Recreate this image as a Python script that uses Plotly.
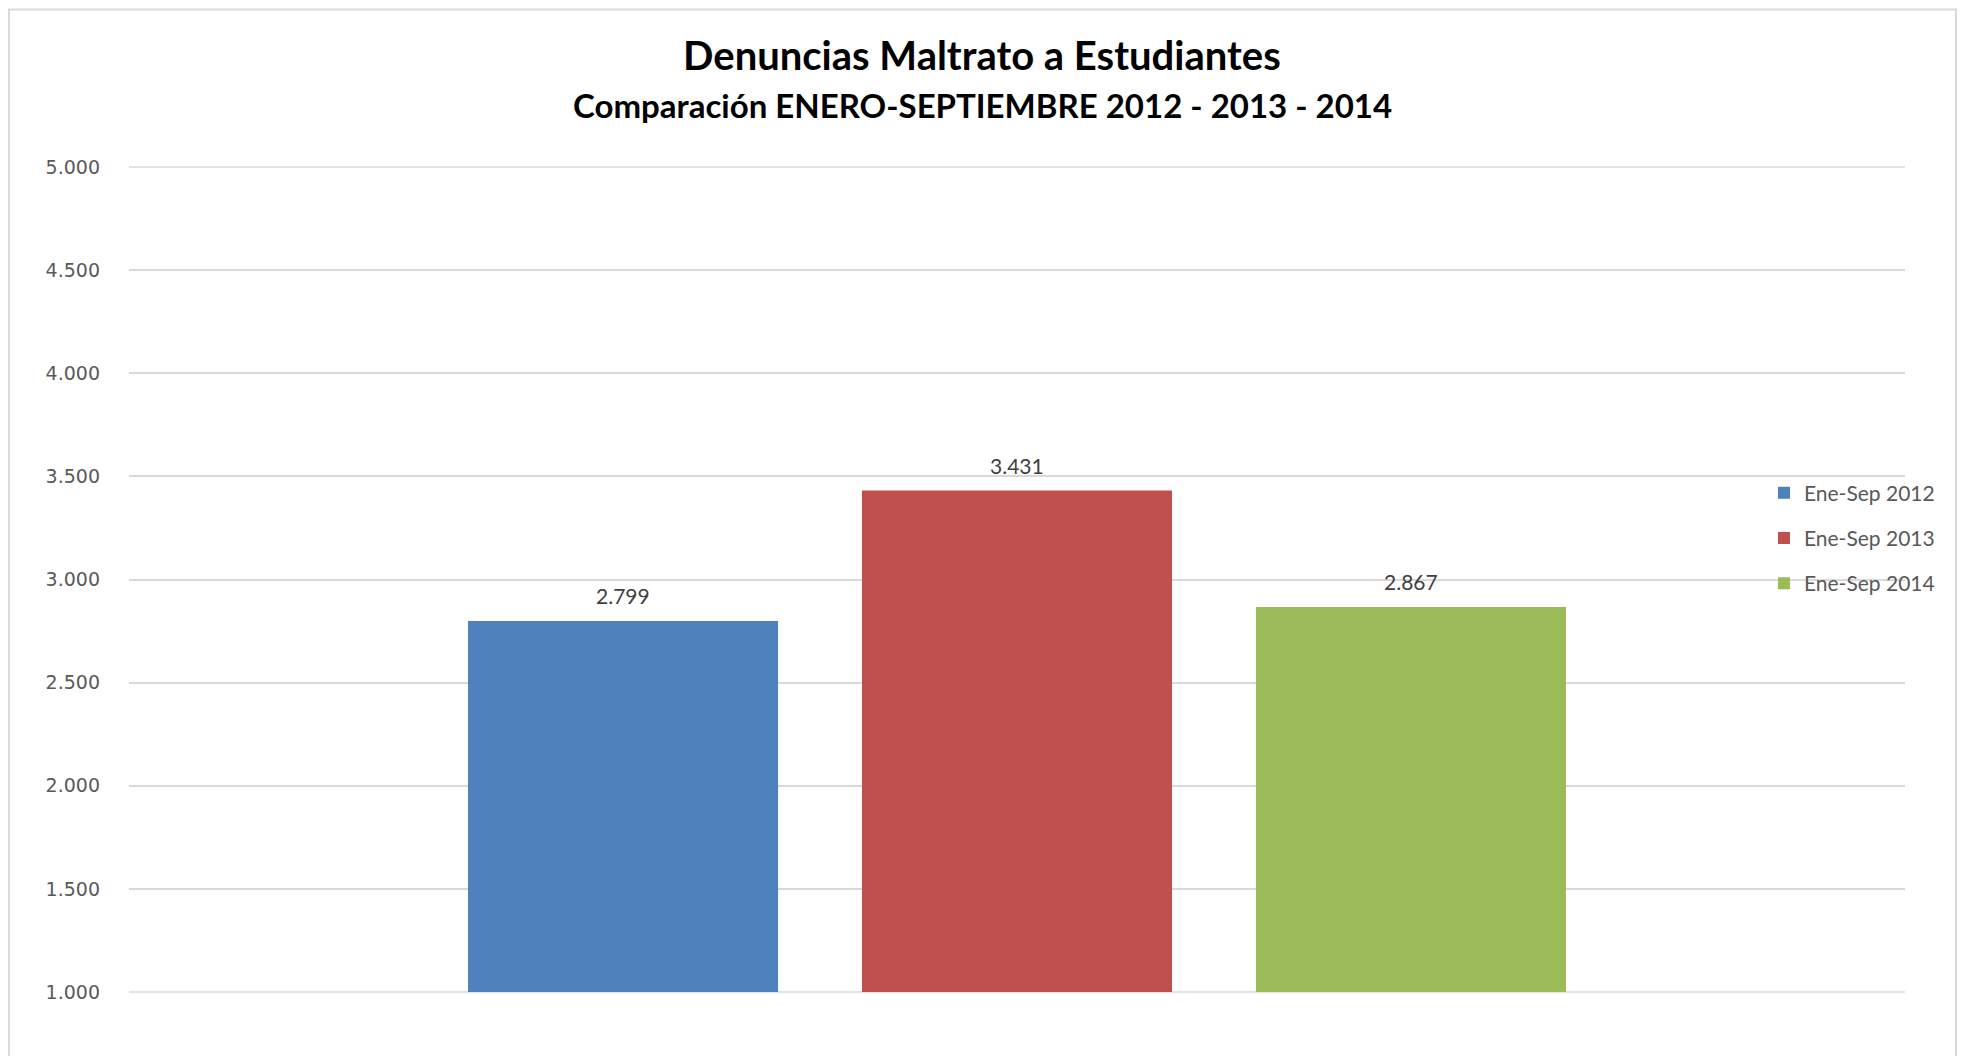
import plotly.graph_objects as go

# ---- data ----
series_names = ["Ene-Sep 2012", "Ene-Sep 2013", "Ene-Sep 2014"]
series_values = [2799, 3431, 2867]
series_colors = ["#4F81BD", "#C0504D", "#9BBB59"]
title_text = "Denuncias Maltrato a Estudiantes"
subtitle_text = "Comparación ENERO-SEPTIEMBRE 2012 - 2013 - 2014"
y_ticks = [1000, 1500, 2000, 2500, 3000, 3500, 4000, 4500, 5000]


def fmt(v):
    return f"{v:,}".replace(",", ".")


fig = go.Figure()
for i, (name, val, col) in enumerate(zip(series_names, series_values, series_colors)):
    fig.add_trace(go.Bar(
        x=[i], y=[val], name=name, marker_color=col, marker_line_width=0,
        width=0.787, legendgroup=name, hoverinfo="name+y",
    ))
    fig.add_annotation(
        x=i, y=val, text=fmt(val), showarrow=False, yshift=25,
        xanchor="center", yanchor="middle",
        font=dict(family="Lato", size=21, color="#404040"),
    )

# gridlines at the range edges (first/last tick), drawn unclipped
for yp in (0, 1):
    fig.add_shape(type="line", xref="paper", yref="paper", x0=0, x1=1, y0=yp, y1=yp,
                  line=dict(color="#d9d9d9", width=1.5), layer="below")

fig.add_annotation(
    xref="paper", yref="paper", x=0.4803, y=1.0747, text=f"<b>{subtitle_text}</b>",
    showarrow=False, xanchor="center", yanchor="middle",
    font=dict(family="Lato", size=33, color="#000000"),
)

fig.add_shape(
    type="rect", xref="paper", yref="paper",
    x0=-0.0676, x1=1.0287, y0=-0.3, y1=1.1910,
    line=dict(color="#d9d9d9", width=2), fillcolor="rgba(0,0,0,0)", layer="below",
)

fig.update_layout(
    width=1949, height=1048,
    margin=dict(l=121, r=52, t=158.7, b=63.5, autoexpand=False),
    paper_bgcolor="white", plot_bgcolor="white",
    separators=",.",
    barmode="overlay",
    title=dict(
        text=f"<b>{title_text}</b>", xref="container", x=0.4997, xanchor="center",
        yref="container", y=1 - 48 / 1048, yanchor="middle",
        font=dict(family="Lato", size=40, color="#000000"),
    ),
    xaxis=dict(range=[-1.254, 3.254], showticklabels=False, showgrid=False,
               zeroline=False, showline=False, fixedrange=True),
    yaxis=dict(range=[y_ticks[0], y_ticks[-1]], tickvals=y_ticks, tickformat=",d",
               showgrid=True, gridcolor="#d9d9d9", gridwidth=1.5,
               zeroline=False, showline=False, ticks="", ticklabelstandoff=28,
               tickfont=dict(family="DejaVu Sans", size=19, color="#595959")),
    legend=dict(x=0.9206, y=0.6297, xanchor="left", yanchor="top",
                bgcolor="rgba(0,0,0,0)", tracegroupgap=15,
                font=dict(family="Lato", size=21, color="#595959")),
    showlegend=True,
)

fig.write_html("out.html")
